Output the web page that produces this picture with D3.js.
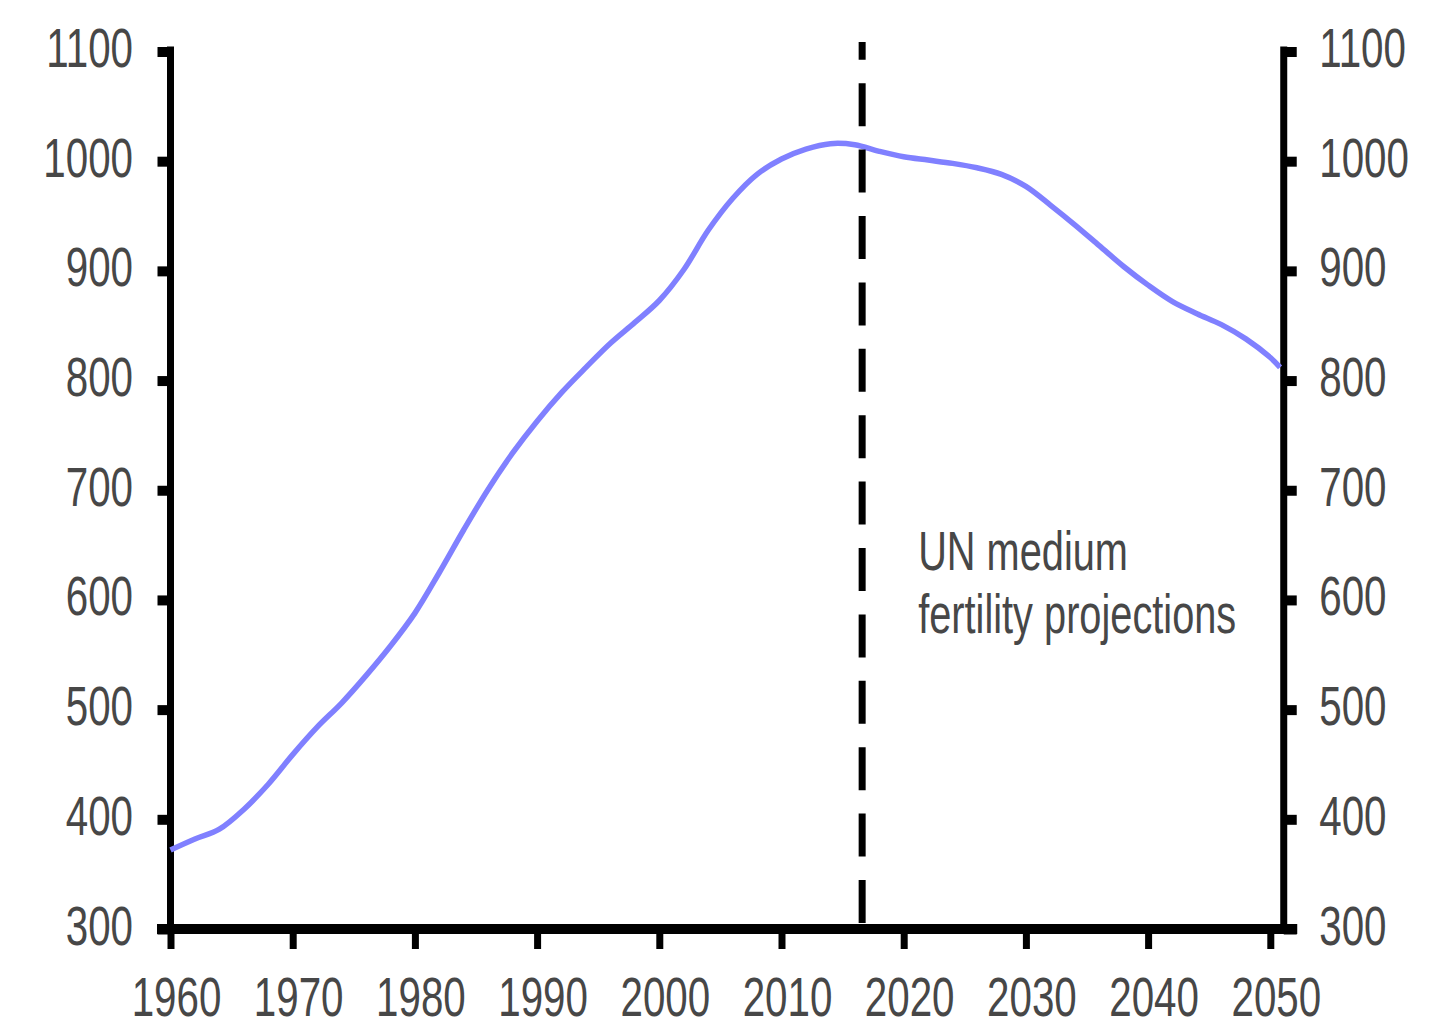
<!DOCTYPE html>
<html><head><meta charset="utf-8">
<script src="https://cdn.jsdelivr.net/npm/d3@7"></script>
<style>body{margin:0;background:#fff;} svg{display:block}</style>
</head><body>
<svg id="chart" width="1455" height="1020"></svg>
<script>
// ---- data ----
const years = [1960,1962,1964,1966,1968,1970,1972,1974,1976,1978,1980,1982,1984,1986,1988,1990,
  1992,1994,1996,1998,2000,2002,2004,2006,2008,2010,2012,2014,2016,2018,2020,2022,2024,2026,2028,
  2030,2032,2034,2036,2038,2040,2042,2044,2046,2048,2050,2050.8];
const population = [372,382,391,409,432,459,484,506,531,558,588,625,664,701,734,763,
  789,812,834,853,873,901,937,966,988,1002,1011,1016,1015,1009,1004,1001,998,994,988,
  977,960,942,923,904,887,872,861,851,838,821,812];
const yTicks = [300,400,500,600,700,800,900,1000,1100];
const xTicks = [1960,1970,1980,1990,2000,2010,2020,2030,2040,2050];
const projectionStart = 2016.6;
const annotationLines = ["UN medium", "fertility projections"];

// ---- setup ----
const svg = d3.select("#chart");
const xEnd = 2051.1;
const x = d3.scaleLinear().domain([1960, 2050]).range([170.5, 1270.3]);
const y = d3.scaleLinear().domain([300, 1100]).range([929, 51.5]);
const FONT = "'Liberation Sans', Arial, sans-serif";
const SX = 0.72;
const textColor = "#474747";

function styleText(sel, dx, dyPix, anchor) {
  sel.attr("font-family", FONT).attr("font-size", 56).attr("fill", textColor)
    .attr("x", dx / SX).attr("y", dyPix).attr("dy", 0)
    .attr("text-anchor", anchor)
    .attr("transform", `scale(${SX},1)`);
}

// left axis
const left = svg.append("g").attr("transform", `translate(${x(1960)},0)`)
  .call(d3.axisLeft(y).tickValues(yTicks).tickSize(13).tickFormat(d3.format("d")));
left.select(".domain").remove();
left.selectAll(".tick line").attr("stroke", "#000").attr("stroke-width", 10);
styleText(left.selectAll(".tick text"), -37.5, 15, "end");

// right axis
const right = svg.append("g").attr("transform", `translate(${x(xEnd)},0)`)
  .call(d3.axisRight(y).tickValues(yTicks).tickSize(13).tickFormat(d3.format("d")));
right.select(".domain").remove();
right.selectAll(".tick line").attr("stroke", "#000").attr("stroke-width", 10);
styleText(right.selectAll(".tick text"), 35.5, 15, "start");

// bottom axis
const bottom = svg.append("g").attr("transform", `translate(0,${y(300)})`)
  .call(d3.axisBottom(x).tickValues(xTicks).tickSize(20).tickFormat(d3.format("d")));
bottom.select(".domain").remove();
bottom.selectAll(".tick line").attr("stroke", "#000").attr("stroke-width", 7);
styleText(bottom.selectAll(".tick text"), 5.5, 87, "middle");

// axis frame lines
const frame = svg.append("g").attr("stroke", "#000");
frame.append("line").attr("x1", x(1960)).attr("x2", x(1960))
  .attr("y1", y(1100) - 5).attr("y2", y(300) + 5).attr("stroke-width", 7);
frame.append("line").attr("x1", x(xEnd)).attr("x2", x(xEnd))
  .attr("y1", y(1100) - 5).attr("y2", y(300) + 5).attr("stroke-width", 7);
frame.append("line").attr("x1", x(1960) - 13.5).attr("x2", x(xEnd) + 13.5)
  .attr("y1", y(300)).attr("y2", y(300)).attr("stroke-width", 10);

// data line
const data = years.map((yr, i) => ({year: yr, v: population[i]}));
svg.append("path").datum(data)
  .attr("fill", "none").attr("stroke", "#8080ff").attr("stroke-width", 5.5)
  .attr("d", d3.line().x(d => x(d.year)).y(d => y(d.v)).curve(d3.curveCatmullRom.alpha(0.5)));

// projection divider
svg.append("line")
  .attr("x1", x(projectionStart)).attr("x2", x(projectionStart))
  .attr("y1", y(300) - 6).attr("y2", y(1100) - 9.5)
  .attr("stroke", "#000").attr("stroke-width", 7).attr("stroke-dasharray", "43 23.4");

// annotation
const ann = svg.append("g").attr("font-family", FONT).attr("font-size", 56).attr("fill", textColor);
annotationLines.forEach((t, i) => {
  ann.append("text")
    .attr("transform", `translate(${x(projectionStart) + 56},${570 + i * 63}) scale(0.71,1)`)
    .text(t);
});
</script>
</body></html>
